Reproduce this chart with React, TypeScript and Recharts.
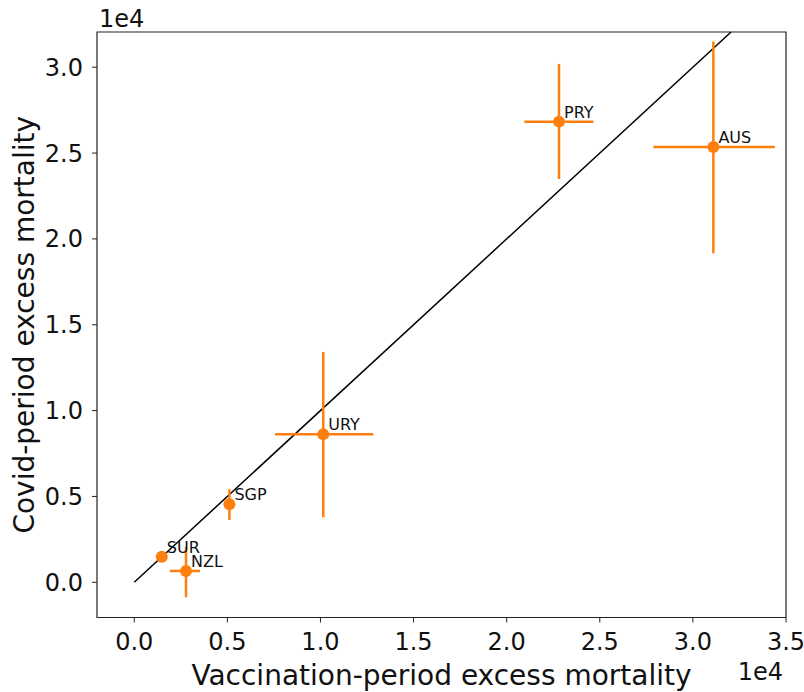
import React from 'react';
import {
  ScatterChart, Scatter, XAxis, YAxis, ErrorBar, ReferenceLine, ReferenceArea,
} from 'recharts';

// ---- data ----
const countries = ['SUR', 'NZL', 'SGP', 'URY', 'PRY', 'AUS'];
const vaccination = [1480, 2780, 5110, 10150, 22810, 31100];
const vaccinationLow = [1380, 1920, 4910, 7560, 20950, 27880];
const vaccinationHigh = [1580, 3530, 5310, 12840, 24660, 34400];
const covid = [1490, 660, 4540, 8620, 26830, 25350];
const covidLow = [1390, -870, 3630, 3790, 23490, 19160];
const covidHigh = [1590, 2070, 5420, 13420, 30190, 31490];

const xTicks = [0, 5000, 10000, 15000, 20000, 25000, 30000, 35000];
const yTicks = [0, 5000, 10000, 15000, 20000, 25000, 30000];
const X_DOMAIN: [number, number] = [-2000, 35000];
const Y_DOMAIN: [number, number] = [-2050, 32050];
const diagonal = [0, 32050];

const ORANGE = '#ff7f0e';
const FONT = "'DejaVu Sans', sans-serif";

const data = countries.map((name, i) => ({
  name,
  x: vaccination[i],
  y: covid[i],
  ex: [vaccination[i] - vaccinationLow[i], vaccinationHigh[i] - vaccination[i]],
  ey: [covid[i] - covidLow[i], covidHigh[i] - covid[i]],
}));

const fmt = (v: number) => (v / 1e4).toFixed(1);

const XLabel = (props: any) => {
  const { x, y, width } = props.viewBox;
  return (
    <g>
      <text x={x + width / 2} y={y + 67.5} textAnchor="middle" fontSize={28} fontFamily={FONT} fill="#111">
        Vaccination-period excess mortality
      </text>
      <text x={x + width - 3} y={y + 62.5} textAnchor="end" fontSize={24} fontFamily={FONT} fill="#111">
        1e4
      </text>
    </g>
  );
};

const YLabel = (props: any) => {
  const { x, y, width, height } = props.viewBox;
  const cx = 33.5;
  const cy = y + height / 2;
  return (
    <g>
      <text x={cx} y={cy} transform={`rotate(-90, ${cx}, ${cy})`} textAnchor="middle" fontSize={28} fontFamily={FONT} fill="#111">
        Covid-period excess mortality
      </text>
      <text x={x + width + 2} y={y - 5} textAnchor="start" fontSize={24} fontFamily={FONT} fill="#111">
        1e4
      </text>
    </g>
  );
};

const PointShape = (p: any) => (
  <g>
    <circle cx={p.cx} cy={p.cy} r={6} fill={ORANGE} />
    <text x={p.cx + 5} y={p.cy - 4} fontSize={16} fontFamily={FONT} fill="#111">
      {p.payload.name}
    </text>
  </g>
);

export default function App() {
  return (
    <div style={{ position: 'absolute', left: 0, top: 0, background: '#fff' }}>
      <ScatterChart
        width={804}
        height={692}
        margin={{ top: 32, right: 18, bottom: 34.5, left: 37 }}
        style={{ fontFamily: FONT }}
      >
        <XAxis
          type="number"
          dataKey="x"
          domain={X_DOMAIN}
          ticks={xTicks}
          allowDataOverflow
          tickFormatter={fmt}
          height={40}
          tickSize={5}
          tickMargin={10}
          axisLine={false}
          tickLine={{ stroke: '#222', strokeWidth: 1 }}
          tick={{ fontSize: 24, fill: '#111', fontFamily: FONT }}
          label={XLabel}
        />
        <YAxis
          type="number"
          dataKey="y"
          domain={Y_DOMAIN}
          ticks={yTicks}
          allowDataOverflow
          tickFormatter={fmt}
          width={60}
          tickSize={5}
          tickMargin={9}
          axisLine={false}
          tickLine={{ stroke: '#222', strokeWidth: 1 }}
          tick={{ fontSize: 24, fill: '#111', fontFamily: FONT }}
          label={YLabel}
        />
        <ReferenceArea
          x1={X_DOMAIN[0]}
          x2={X_DOMAIN[1]}
          y1={Y_DOMAIN[0]}
          y2={Y_DOMAIN[1]}
          fill="none"
          fillOpacity={0}
          stroke="#222"
          strokeWidth={1.2}
          ifOverflow="visible"
        />
        <ReferenceLine
          segment={[{ x: diagonal[0], y: diagonal[0] }, { x: diagonal[1], y: diagonal[1] }]}
          stroke="#000"
          strokeWidth={1.5}
          ifOverflow="visible"
        />
        <Scatter data={data} fill={ORANGE} shape={PointShape} isAnimationActive={false}>
          <ErrorBar dataKey="ex" direction="x" width={0} stroke={ORANGE} strokeWidth={2.5} />
          <ErrorBar dataKey="ey" direction="y" width={0} stroke={ORANGE} strokeWidth={2.5} />
        </Scatter>
      </ScatterChart>
    </div>
  );
}
